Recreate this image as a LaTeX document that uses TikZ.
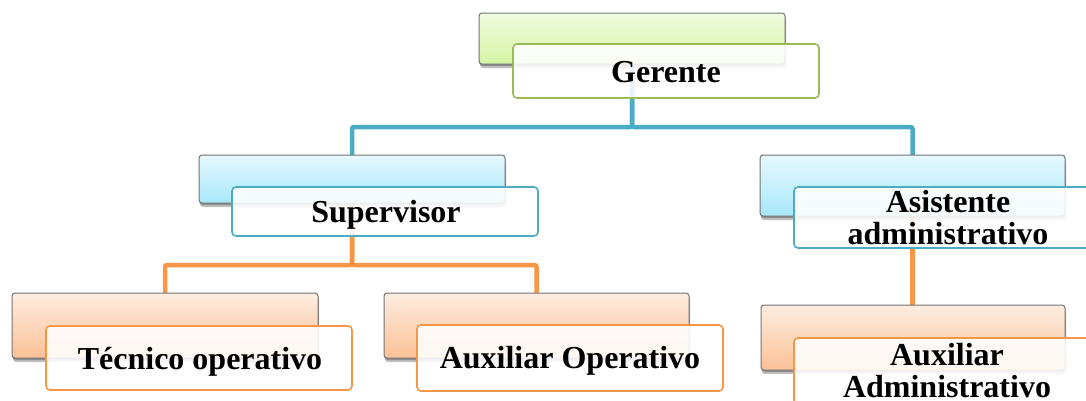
\documentclass[tikz,border=0pt]{standalone}
\usepackage{fontspec}
\setmainfont{Liberation Serif}
\usetikzlibrary{shadows}
\pgfdeclarelayer{bg}
\pgfsetlayers{bg,main}
\definecolor{grnB}{HTML}{9BBB59}
\definecolor{tealB}{HTML}{4BACC6}
\definecolor{orgB}{HTML}{F79646}
\definecolor{grnT}{HTML}{F2FCE0}
\definecolor{grnD}{HTML}{D4F4A4}
\definecolor{bluT}{HTML}{E6F9FF}
\definecolor{bluD}{HTML}{A8E7FA}
\definecolor{orgT}{HTML}{FDEDE0}
\definecolor{orgD}{HTML}{FBC196}
\tikzset{
  backbox/.style={draw=black!55, line width=1pt, rounded corners=3pt,
    minimum width=306pt, inner sep=0pt, outer sep=0pt,
    double copy shadow={shadow xshift=0.5pt, shadow yshift=-2pt, opacity=0.25, fill=black, draw=none}},
  greenback/.style={backbox, top color=grnT, bottom color=grnD},
  blueback/.style={backbox, top color=bluT, bottom color=bluD},
  orangeback/.style={backbox, top color=orgT, bottom color=orgD},
  frontbox/.style={rounded corners=4pt, line width=1.6pt, fill=white,
    fill opacity=0.88, minimum width=306pt, inner sep=0pt, outer sep=0pt},
  lbl/.style={anchor=base, inner sep=0pt, font=\fontsize{32}{32}\selectfont\bfseries},
  tealline/.style={draw=tealB, line width=4.5pt, rounded corners=2pt},
  orgline/.style={draw=orgB, line width=4.5pt, rounded corners=2pt},
}
\begin{document}
\begin{tikzpicture}[x=1pt,y=-1pt]
\useasboundingbox (0,0) rectangle (1086,400);
% back and front boxes
\node[greenback, minimum height=51pt] (gerB) at (632,38.5) {};
\node[frontbox, draw=grnB, minimum height=54pt] (gerF) at (666,71) {};
\node[blueback, minimum height=48pt] (supB) at (352,179) {};
\node[frontbox, draw=tealB, minimum height=49pt] (supF) at (385,211.5) {};
\node[blueback, minimum height=61pt, minimum width=305pt] (asiB) at (912.5,185.5) {};
\node[frontbox, draw=tealB, minimum height=61pt] (asiF) at (947,217.5) {};
\node[orangeback, minimum height=65pt] (tecB) at (165,325.5) {};
\node[frontbox, draw=orgB, minimum height=64pt] (tecF) at (199,358) {};
\node[orangeback, minimum height=65pt, minimum width=305pt] (auxB) at (536.5,325.5) {};
\node[frontbox, draw=orgB, minimum height=66pt] (auxF) at (570,358) {};
\node[orangeback, minimum height=65pt, minimum width=304pt] (admB) at (913,337.5) {};
\node[frontbox, draw=orgB, minimum height=66pt] (admF) at (947,371) {};
% labels
\node[lbl] (tGer) at (666,82) {Gerente};
\node[lbl] (tSup) at (386,222) {Supervisor};
\node[lbl] (tAsi1) at (948,212) {Asistente};
\node[lbl] (tAsi2) at (948,244) {administrativo};
\node[lbl] (tTec) at (200,369) {Técnico operativo};
\node[lbl] (tAux) at (570,368) {Auxiliar Operativo};
\node[lbl] (tAdm1) at (947,365) {Auxiliar};
\node[lbl] (tAdm2) at (947,397) {Administrativo};
% connectors
\begin{pgfonlayer}{bg}
\draw[tealline] (gerB.south) -- ++(0,63) -| (supB.north);
\draw[tealline] (gerB.south) -- ++(0,63) -| (asiB.north);
\draw[orgline] (supB.south) -- ++(0,62) -| (tecB.north);
\draw[orgline] (supB.south) -- ++(0,62) -| (auxB.north);
\draw[orgline] (asiB.south) -- (asiB.south |- admB.north);
\end{pgfonlayer}
\end{tikzpicture}
\end{document}
